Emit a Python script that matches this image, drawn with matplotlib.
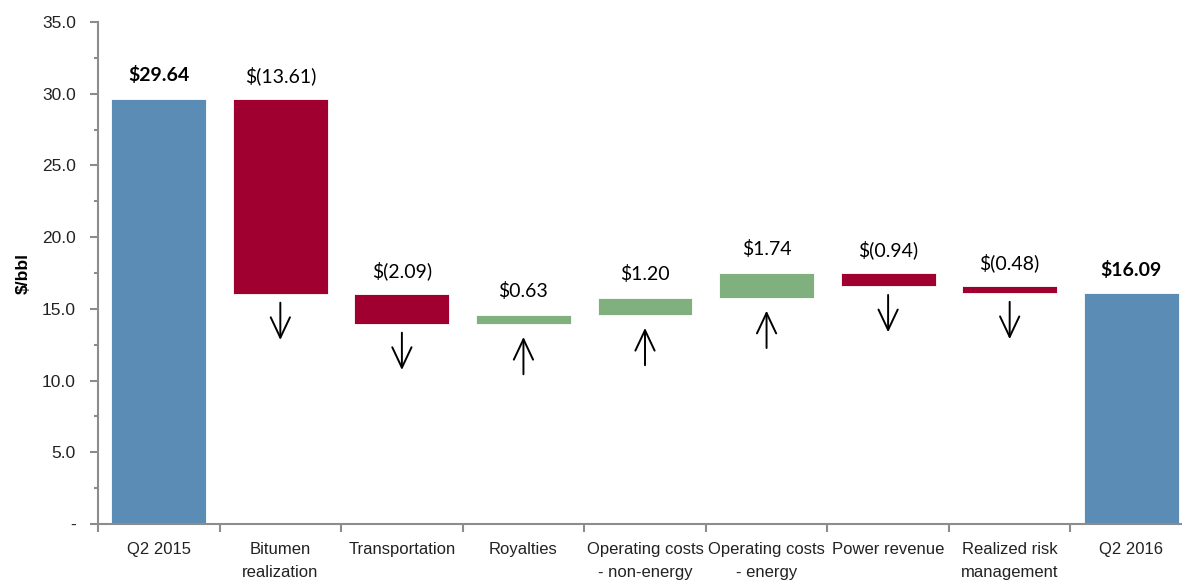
import matplotlib.pyplot as plt
from matplotlib import font_manager

categories = ["Q2 2015", "Bitumen\nrealization", "Transportation", "Royalties",
              "Operating costs\n- non-energy", "Operating costs\n- energy",
              "Power revenue", "Realized risk\nmanagement", "Q2 2016"]
start_value = 29.64
changes = [-13.61, -2.09, 0.63, 1.20, 1.74, -0.94, -0.48]
end_value = 16.09
labels = ["$29.64", "$(13.61)", "$(2.09)", "$0.63", "$1.20", "$1.74",
          "$(0.94)", "$(0.48)", "$16.09"]

names = {f.name for f in font_manager.fontManager.ttflist}
narrow = "Liberation Sans Narrow" if "Liberation Sans Narrow" in names else "Liberation Sans"
num_font = "Lato"

BLUE = "#5b8cb6"
RED = "#a00030"
GREEN = "#7fb07e"
GRAY = "#8c8c8c"

fig = plt.figure(figsize=(11.82, 5.8), dpi=100)
ax = fig.add_axes([98 / 1182, 1 - 524 / 580, 1094 / 1182, 502 / 580])

# waterfall geometry
bottoms, heights, colors = [0], [start_value], [BLUE]
level = start_value
for c in changes:
    new = level + c
    bottoms.append(min(level, new))
    heights.append(abs(c))
    colors.append(GREEN if c > 0 else RED)
    level = new
bottoms.append(0)
heights.append(end_value)
colors.append(BLUE)

x = list(range(len(categories)))
ax.bar(x, heights, bottom=bottoms, width=0.78, color=colors,
       edgecolor="white", linewidth=0.6, zorder=2)

for i, (b, h, lab) in enumerate(zip(bottoms, heights, labels)):
    bold = i in (0, len(categories) - 1)
    ax.annotate(lab, xy=(i, b + h), xytext=(0, 17), textcoords="offset points",
                ha="center", va="center", fontsize=14, family=num_font,
                fontweight="bold" if bold else "normal")

# direction arrows below the change bars
for i, c in enumerate(changes, start=1):
    b = bottoms[i]
    top = b - 0.6
    bot = top - 2.6
    if c < 0:
        start, end = (i, top), (i, bot)
    else:
        start, end = (i, bot - 0.3), (i, top - 0.3)
    ax.annotate("", xy=end, xytext=start,
                arrowprops=dict(arrowstyle="->,head_length=0.7,head_width=0.33",
                                lw=1.4, color="black", mutation_scale=21,
                                shrinkA=0, shrinkB=0))

ax.set_xlim(-0.5, len(categories) - 0.5)
ax.set_ylim(0, 35)

ax.set_yticks([0, 5, 10, 15, 20, 25, 30, 35])
ax.set_yticklabels(["-", "5.0", "10.0", "15.0", "20.0", "25.0", "30.0", "35.0"])
ax.set_yticks([2.5 + 5 * k for k in range(7)], minor=True)

ax.set_xticks([k - 0.5 for k in range(len(categories) + 1)])
ax.set_xticklabels([])
ax.set_xticks(x, minor=True)
ax.set_xticklabels(categories, minor=True)

ax.tick_params(axis="y", which="major", length=6, width=1.5, color=GRAY,
               labelsize=12.5, pad=10)
ax.tick_params(axis="y", which="minor", length=3, width=1.5, color=GRAY)
ax.tick_params(axis="x", which="major", length=6, width=1.5, color=GRAY)
ax.tick_params(axis="x", which="minor", length=0, labelsize=12, pad=13)
for t in ax.get_xticklabels(minor=True) + ax.get_yticklabels():
    t.set_family(narrow)
    t.set_color("#222222")
for t in ax.get_xticklabels(minor=True):
    t.set_linespacing(1.65)

for s in ("top", "right"):
    ax.spines[s].set_visible(False)
for s in ("left", "bottom"):
    ax.spines[s].set_color(GRAY)
    ax.spines[s].set_linewidth(1.5)

ax.set_ylabel("$/bbl", fontsize=12.5, fontweight="bold", family=narrow, labelpad=8)

fig.savefig("out.png", dpi=100)
